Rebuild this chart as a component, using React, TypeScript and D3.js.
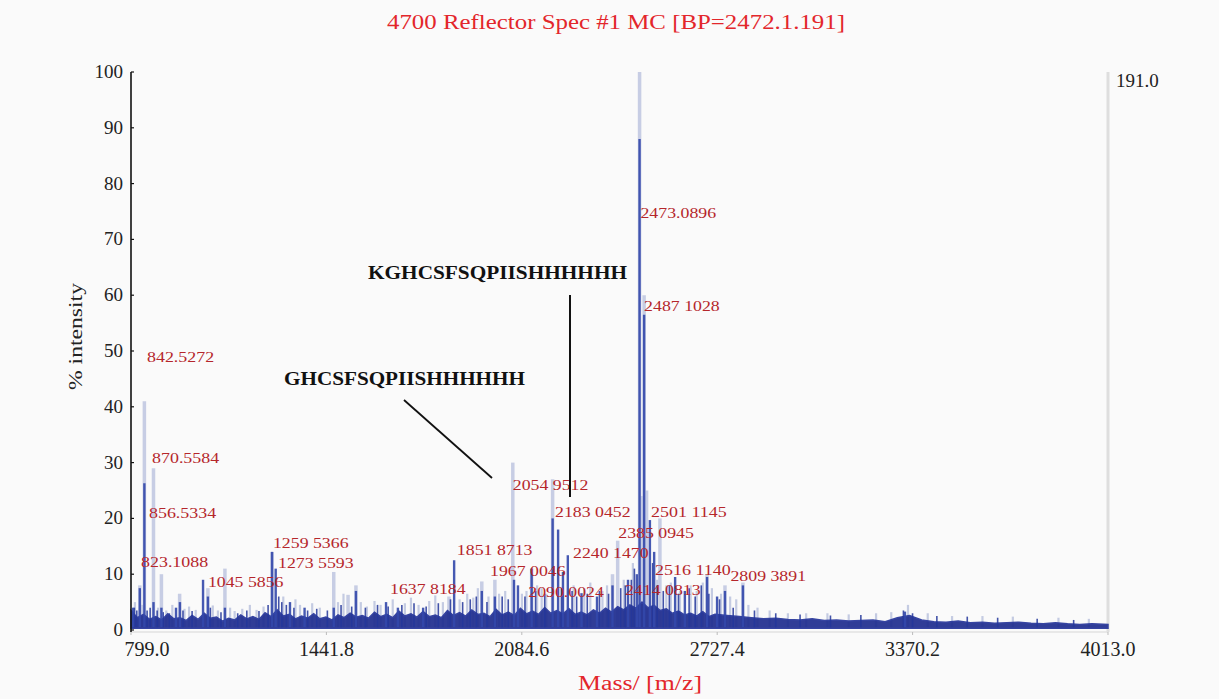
import React, { useEffect, useRef } from 'react';
import * as d3 from 'd3';

// x axis tick values (m/z) and y ticks (% intensity)
const xTicks = [799.0, 1441.8, 2084.6, 2727.4, 3370.2, 4013.0];
const yTicks = [0, 10, 20, 30, 40, 50, 60, 70, 80, 90, 100];

// light "profile" peaks [m/z, % intensity]
const profilePeaks: [number, number][] = [
  [828, 8], [843, 41], [873, 29], [899, 10], [959, 6.5], [1052, 7.5], [1108, 11],
  [1263, 14], [1466, 10.4], [1513, 6.3], [1539, 8], [1845, 6], [1953, 8.7],
  [1996, 9], [2055, 30], [2117, 11], [2186, 27], [2383, 10], [2400, 16],
  [2472, 100], [2479, 24], [2487, 60], [2495, 25], [2539, 20], [2694, 10],
  [2753, 8], [2812, 8.5],
];

// dark centroid peaks [m/z, % intensity]
const centroidPeaks: [number, number][] = [
  [806, 4], [828, 7.5], [843, 26.3], [873, 5], [899, 4], [947, 4], [960, 5],
  [1036, 9], [1052, 6], [1108, 4], [1263, 14], [1275, 11], [1322, 5], [1370, 4],
  [1466, 4], [1539, 7], [1638, 5], [1677, 4], [1760, 4], [1862, 12.5], [1953, 7],
  [1996, 6], [2059, 9], [2072, 8], [2117, 11], [2186, 20], [2204, 18], [2220, 10.4],
  [2236, 13.4], [2281, 6.6], [2332, 6], [2383, 8], [2434, 9], [2463, 10],
  [2472, 88], [2487, 56.5], [2506, 19.7], [2520, 14], [2589, 9.5], [2621, 7],
  [2694, 9.5], [2727, 6], [2753, 7], [2812, 8], [3345, 3.3],
];

// small light peaks in the grass
const grassPeaks: [number, number][] = [
  [812, 5], [835, 4.5], [888, 4], [915, 3.5], [935, 4.5], [975, 3.8], [990, 4.2],
  [1012, 3.6], [1068, 4.4], [1085, 3.5], [1125, 4], [1140, 3.4], [1165, 3.8],
  [1190, 4.5], [1212, 3.6], [1235, 4.2], [1300, 6], [1340, 5.5], [1355, 4.5],
  [1395, 4.8], [1420, 4], [1480, 5], [1498, 6.5], [1555, 5], [1575, 4.2],
  [1600, 5.2], [1620, 4.5], [1660, 5.5], [1700, 4.8], [1720, 5.8], [1745, 4.5],
  [1780, 5.2], [1800, 6.2], [1825, 5], [1880, 5.5], [1905, 6.5], [1925, 5.8],
  [1940, 7.5], [1975, 6], [2010, 6.5], [2030, 7], [2085, 6.5], [2100, 7],
  [2135, 8], [2150, 7.5], [2165, 6.5], [2220, 7.5], [2255, 8], [2290, 7.5],
  [2310, 8.5], [2350, 7], [2365, 8], [2420, 9], [2450, 12], [2530, 9], [2560, 8],
  [2575, 8.5], [2605, 7], [2640, 8], [2660, 7], [2680, 8.5], [2710, 7.5],
  [2740, 6.5], [2770, 6], [2790, 5.5], [2830, 4.5], [2860, 4], [2900, 3.5],
  [2960, 3], [3020, 3], [3090, 3], [3160, 2.8], [3250, 3], [3300, 3.2],
  [3355, 4.5], [3420, 3], [3500, 2.5], [3600, 2.5], [3700, 2.4], [3850, 2.2],
  [3950, 2],
];

// small dark spikes on the baseline
const noiseSpikes: [number, number][] = [
  [810, 4], [818, 3.5], [852, 3.5], [862, 4], [885, 3.5], [905, 3.2], [925, 3],
  [970, 3.5], [1000, 3.4], [1060, 4], [1095, 3.2], [1150, 3], [1180, 3.5],
  [1220, 3.4], [1250, 4.5], [1285, 6], [1295, 5], [1310, 4.5], [1335, 4],
  [1380, 3.5], [1410, 3.8], [1445, 3.5], [1490, 4.5], [1525, 4.2], [1570, 4],
  [1610, 4.5], [1645, 4.2], [1690, 4.5], [1730, 4.8], [1770, 4.2], [1810, 4.8],
  [1850, 5.5], [1890, 5], [1915, 5.5], [1935, 6], [1970, 5], [2020, 6],
  [2040, 5.5], [2095, 6], [2130, 7], [2160, 6.5], [2215, 7.5], [2250, 7],
  [2265, 6], [2300, 6.5], [2340, 7], [2370, 6.5], [2410, 7.5], [2425, 8],
  [2445, 9], [2455, 11], [2515, 12], [2530, 8], [2550, 7], [2570, 8],
  [2600, 6.5], [2635, 7.5], [2655, 6], [2675, 8], [2700, 6.5], [2735, 5.5],
  [2780, 4], [2850, 3.5], [2920, 3], [3000, 2.8], [3100, 2.6], [3200, 2.7],
  [3340, 3.5], [3370, 3], [3450, 2.5], [3550, 2.4], [3650, 2.2], [3780, 2],
  [3900, 1.8],
];

// baseline band top [m/z, %]
const baseline: [number, number][] = [
  [799, 3.5], [820, 2.2], [840, 2.8], [860, 1.9], [880, 2.4], [900, 1.8], [920, 2.9],
  [940, 2.0], [960, 2.2], [980, 1.7], [1000, 2.6], [1020, 1.9], [1040, 3.0],
  [1060, 2.1], [1080, 2.3], [1100, 1.6], [1120, 2.1], [1140, 1.8], [1160, 2.7],
  [1180, 2.0], [1200, 2.4], [1220, 1.9], [1240, 3.1], [1260, 2.4], [1280, 3.6],
  [1300, 2.5], [1320, 2.8], [1340, 2.0], [1360, 2.5], [1380, 2.1], [1400, 2.9],
  [1420, 2.0], [1440, 2.3], [1460, 1.8], [1480, 2.7], [1500, 2.2], [1520, 3.0],
  [1540, 2.3], [1560, 2.6], [1580, 2.1], [1600, 3.2], [1620, 2.4], [1640, 2.8],
  [1660, 2.2], [1680, 3.4], [1700, 2.5], [1720, 2.9], [1740, 2.3], [1760, 3.3],
  [1780, 2.4], [1800, 2.7], [1820, 2.2], [1840, 3.5], [1860, 2.6], [1880, 3.1],
  [1900, 2.5], [1920, 3.6], [1940, 2.8], [1960, 3.0], [1980, 2.4], [2000, 3.7],
  [2020, 2.7], [2040, 3.2], [2060, 2.6], [2080, 3.9], [2100, 2.9], [2120, 3.4],
  [2140, 2.8], [2160, 4.0], [2180, 3.0], [2200, 3.5], [2220, 2.9], [2240, 3.8],
  [2260, 2.8], [2280, 3.2], [2300, 2.7], [2320, 3.6], [2340, 3.0], [2360, 3.9],
  [2380, 3.2], [2400, 4.2], [2420, 3.6], [2440, 4.5], [2460, 3.9], [2480, 5.0],
  [2500, 4.0], [2520, 4.4], [2540, 3.5], [2560, 3.8], [2580, 3.0], [2600, 3.4],
  [2620, 2.7], [2640, 3.0], [2660, 2.5], [2680, 3.3], [2700, 2.4], [2720, 2.8],
  [2760, 2.6], [2800, 2.4], [2840, 2.2], [2880, 2.0], [2920, 2.1], [2960, 1.9],
  [3000, 1.8], [3040, 2.0], [3080, 1.7], [3120, 1.8], [3160, 1.6], [3200, 1.7],
  [3240, 1.8], [3280, 1.5], [3320, 2.2], [3360, 2.6], [3400, 1.8], [3440, 1.5],
  [3480, 1.4], [3520, 1.6], [3560, 1.3], [3600, 1.4], [3640, 1.2], [3680, 1.3],
  [3720, 1.4], [3760, 1.2], [3800, 1.1], [3840, 1.3], [3880, 1.1], [3920, 1.0],
  [3960, 1.1], [4013, 1.0],
];

// peak labels: text, m/z of left edge, % of baseline
const peakLabels: [string, number, number][] = [
  ['842.5272', 851.6, 48.0], ['870.5584', 868.1, 30.0], ['856.5334', 858.2, 20.0],
  ['823.1088', 831.9, 11.3], ['1045 5856', 1052, 7.7], ['1259 5366', 1266, 14.7],
  ['1273 5593', 1282.6, 11.1], ['1637 8184', 1651, 6.5], ['1851 8713', 1871, 13.4],
  ['1967 0046', 1980, 9.6], ['2090.0024', 2106, 6.0], ['2054 9512', 2055, 25.1],
  ['2183 0452', 2194, 20.3], ['2240 1470', 2253, 12.9], ['2385 0945', 2402, 16.5],
  ['2414 0813', 2424, 6.3], ['2501 1145', 2510, 20.3], ['2516 1140', 2523, 9.9],
  ['2809 3891', 2771, 8.8], ['2473.0896', 2475, 73.8], ['2487 1028', 2487, 57.2],
];

export default function App() {
  const svgRef = useRef<SVGSVGElement>(null);

  useEffect(() => {
    if (!svgRef.current) return;
    const svg = d3.select(svgRef.current);
    svg.selectAll('*').remove();

    const x = d3.scaleLinear().domain([799, 4013]).range([131, 1108]);
    const y = d3.scaleLinear().domain([0, 100]).range([630, 72]);
    const serif = '"Liberation Serif", "DejaVu Serif", serif';
    const red = '#e3262b';

    svg.append('rect').attr('width', 1219).attr('height', 699).attr('fill', '#fafafa');

    // title
    svg.append('text')
      .attr('x', 387).attr('y', 29)
      .attr('textLength', 458).attr('lengthAdjust', 'spacingAndGlyphs')
      .style('font-family', serif).style('font-size', '20px')
      .attr('fill', red)
      .text('4700 Reflector Spec #1 MC [BP=2472.1.191]');

    // right frame line + base peak count
    svg.append('line')
      .attr('x1', 1108).attr('x2', 1108).attr('y1', 72).attr('y2', 632)
      .attr('stroke', '#dedede').attr('stroke-width', 3);
    svg.append('text')
      .attr('x', 1116).attr('y', 87)
      .style('font-family', serif).style('font-size', '19px')
      .attr('fill', '#222').text('191.0');

    // x axis line
    svg.append('line')
      .attr('x1', 131).attr('x2', 1108).attr('y1', 632).attr('y2', 632)
      .attr('stroke', '#e2e2e2').attr('stroke-width', 1.5);

    const stick = (data: [number, number][], color: string, width: number, opacity: number) => {
      svg.append('g').selectAll('line')
        .data(data)
        .enter()
        .append('line')
        .attr('x1', d => x(d[0])).attr('x2', d => x(d[0]))
        .attr('y1', y(0.5)).attr('y2', d => y(d[1]))
        .attr('stroke', color)
        .attr('stroke-width', width)
        .attr('opacity', opacity);
    };

    stick(grassPeaks, '#b3bcdb', 2.2, 0.75);
    stick(profilePeaks, '#c2c9e2', 3.5, 0.9);

    // baseline band
    const area = d3.area<[number, number]>()
      .x(d => x(d[0]))
      .y0(y(0.3))
      .y1(d => y(d[1]));
    svg.append('path')
      .datum(baseline)
      .attr('d', area)
      .attr('fill', '#1f2d8f')
      .attr('stroke', '#26359a')
      .attr('stroke-width', 1.5)
      .attr('opacity', 0.92);

    stick(noiseSpikes, '#24379b', 1.6, 0.85);
    stick(centroidPeaks, '#3348ab', 2.4, 0.9);

    // y axis
    svg.append('line')
      .attr('x1', 131).attr('x2', 131).attr('y1', 72).attr('y2', 632)
      .attr('stroke', '#111').attr('stroke-width', 1.6);
    const yg = svg.append('g');
    yg.selectAll('line').data(yTicks).enter().append('line')
      .attr('x1', 131).attr('x2', 134)
      .attr('y1', d => y(d)).attr('y2', d => y(d))
      .attr('stroke', '#111').attr('stroke-width', 1.2);
    yg.selectAll('text').data(yTicks).enter().append('text')
      .attr('x', 123).attr('y', d => y(d) + 6)
      .attr('text-anchor', 'end')
      .style('font-family', serif).style('font-size', '19px')
      .attr('fill', '#222')
      .text(d => String(d));

    // x tick labels
    const xg = svg.append('g');
    xg.selectAll('line').data(xTicks).enter().append('line')
      .attr('x1', d => x(d)).attr('x2', d => x(d))
      .attr('y1', 632).attr('y2', 635)
      .attr('stroke', '#bbb');
    xg.selectAll('text').data(xTicks).enter().append('text')
      .attr('x', (d, i) => (i === 0 ? x(d) + 16 : x(d)))
      .attr('y', 656)
      .attr('text-anchor', 'middle')
      .style('font-family', serif).style('font-size', '20px')
      .attr('fill', '#222')
      .text(d => d3.format('.1f')(d));

    // axis titles
    svg.append('text')
      .attr('transform', 'translate(82,390) rotate(-90)')
      .attr('textLength', 107).attr('lengthAdjust', 'spacingAndGlyphs')
      .style('font-family', serif).style('font-size', '19px')
      .attr('fill', '#222')
      .text('% intensity');
    svg.append('text')
      .attr('x', 578).attr('y', 690)
      .attr('textLength', 124).attr('lengthAdjust', 'spacingAndGlyphs')
      .style('font-family', serif).style('font-size', '20px')
      .attr('fill', red)
      .text('Mass/ [m/z]');

    // peak labels
    svg.append('g').selectAll('text')
      .data(peakLabels)
      .enter()
      .append('text')
      .attr('x', d => x(d[1]))
      .attr('y', d => y(d[2]))
      .attr('textLength', d => d[0].length * 8.4)
      .attr('lengthAdjust', 'spacingAndGlyphs')
      .style('font-family', serif).style('font-size', '15px')
      .attr('fill', '#b5262b')
      .text(d => d[0]);

    // sequence annotations
    svg.append('line')
      .attr('x1', 570).attr('x2', 570).attr('y1', 295).attr('y2', 497)
      .attr('stroke', '#111').attr('stroke-width', 2);
    svg.append('line')
      .attr('x1', 404).attr('y1', 400).attr('x2', 492).attr('y2', 478)
      .attr('stroke', '#111').attr('stroke-width', 1.8);
    svg.append('text')
      .attr('x', 368).attr('y', 279)
      .attr('textLength', 259).attr('lengthAdjust', 'spacingAndGlyphs')
      .style('font-family', serif).style('font-size', '19px').style('font-weight', 'bold')
      .attr('fill', '#111')
      .text('KGHCSFSQPIISHHHHHH');
    svg.append('text')
      .attr('x', 284).attr('y', 385)
      .attr('textLength', 241).attr('lengthAdjust', 'spacingAndGlyphs')
      .style('font-family', serif).style('font-size', '19px').style('font-weight', 'bold')
      .attr('fill', '#111')
      .text('GHCSFSQPIISHHHHHH');
  }, []);

  return (
    <svg
      ref={svgRef}
      width={1219}
      height={699}
      style={{ position: 'absolute', left: 0, top: 0, background: '#fafafa' }}
    />
  );
}
